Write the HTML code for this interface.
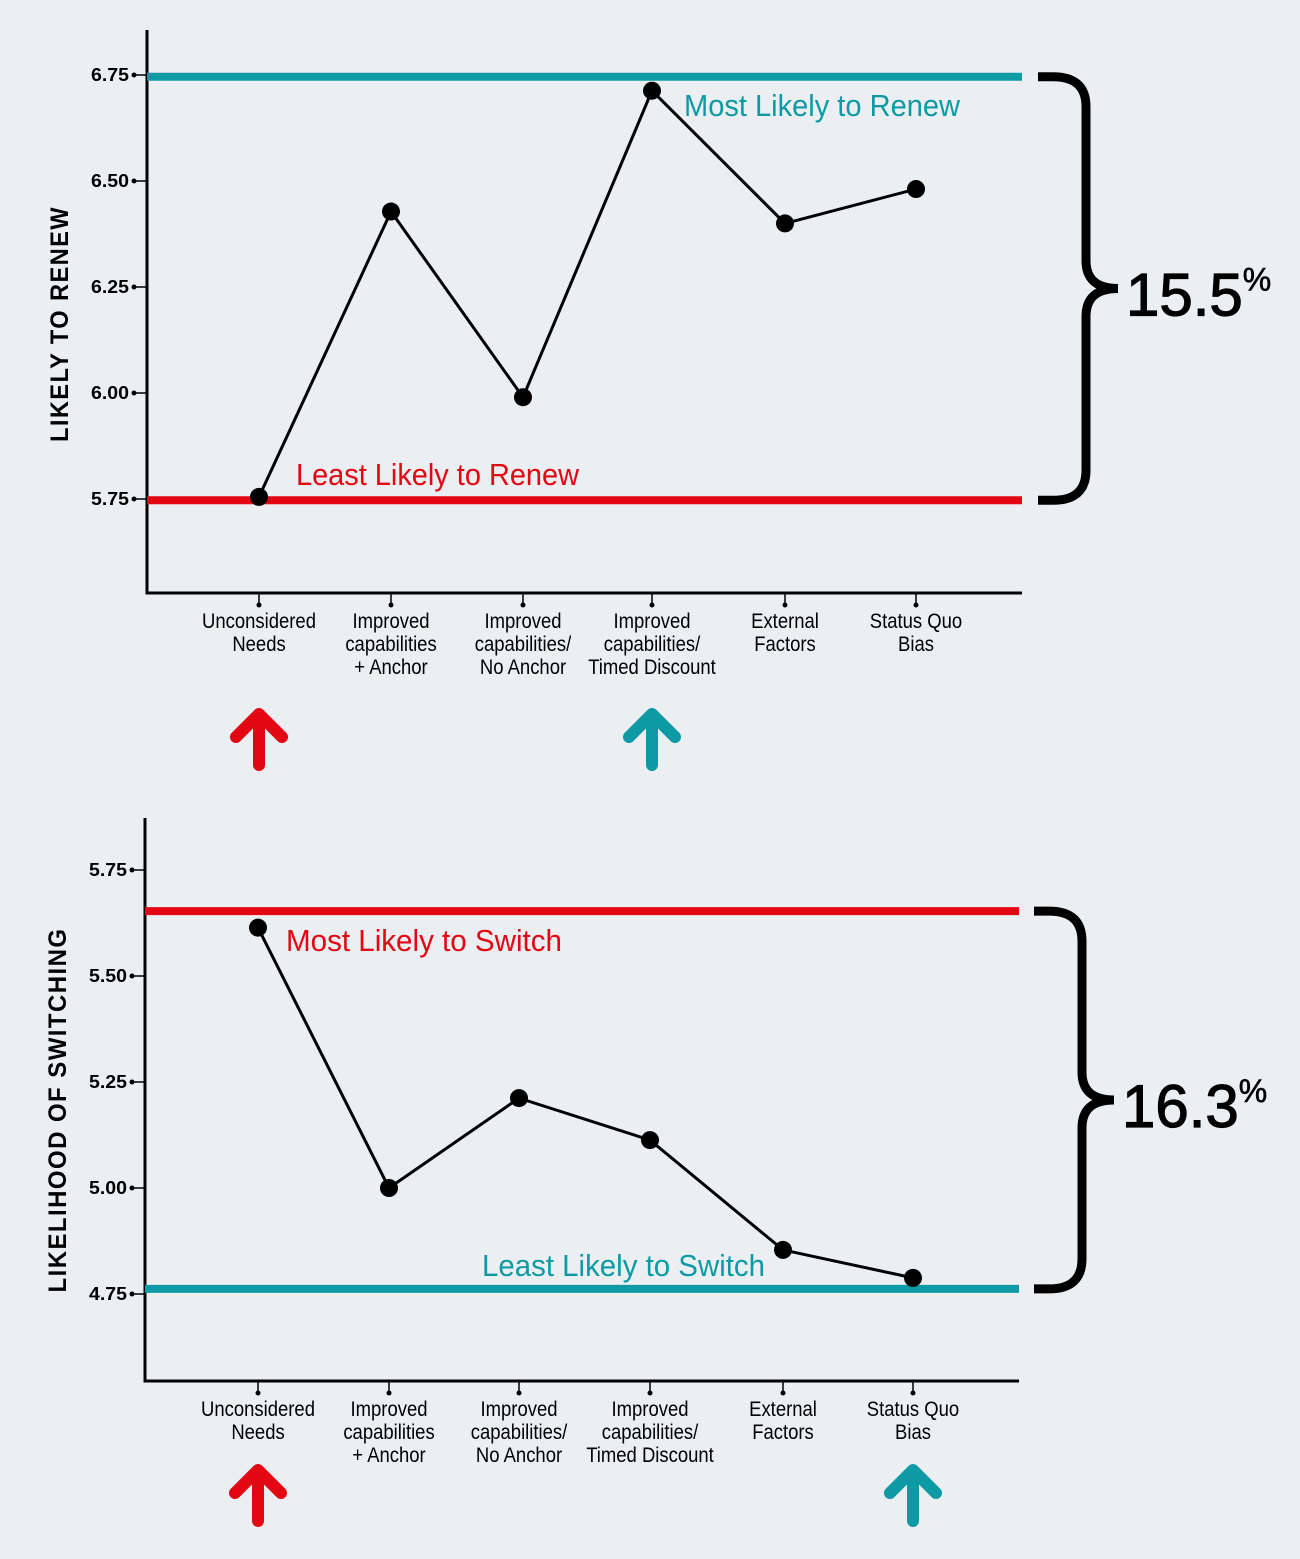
<!DOCTYPE html>
<html><head><meta charset="utf-8"><style>
html,body{margin:0;padding:0;background:#eceff2;}
svg{display:block;}
text{font-family:"Liberation Sans Narrow","Liberation Sans",sans-serif;}
</style></head><body>
<svg id="svg" width="1300" height="1559" viewBox="0 0 1300 1559" xmlns="http://www.w3.org/2000/svg">
<rect width="1300" height="1559" fill="#eceff2"/>
</svg>
<script>
const categories = [["Unconsidered","Needs"],["Improved","capabilities","+ Anchor"],["Improved","capabilities/","No Anchor"],["Improved","capabilities/","Timed Discount"],["External","Factors"],["Status Quo","Bias"]];
const renewValues = [5.755, 6.428, 5.99, 6.713, 6.40, 6.481];
const switchValues = [5.614, 5.0, 5.212, 5.113, 4.854, 4.788];
const renewTicks = ["5.75","6.00","6.25","6.50","6.75"];
const switchTicks = ["4.75","5.00","5.25","5.50","5.75"];
const renewRefs = [6.746, 5.747];
const switchRefs = [5.653, 4.762];

const TEAL="#0e9aa5", RED="#e30613";
const svg=document.getElementById('svg');
const NS="http://www.w3.org/2000/svg";
function mk(tag,attrs,parent){const e=document.createElementNS(NS,tag);for(const k in attrs)e.setAttribute(k,attrs[k]);(parent||svg).appendChild(e);return e;}

function chart(o){
  const g=mk('g',{});
  
  
  const y=v=>o.y0-(v-o.v0)/0.25*106;
  const x=i=>o.xs[i];
  const ax=mk('path',{d:`M${o.ax},${o.top} L${o.ax},${o.bot} L${o.right},${o.bot}`,fill:'none',stroke:'#000','stroke-width':3},g);
  
  
  o.ticks.forEach(t=>{
    const yy=y(parseFloat(t));
    const tl=mk('text',{x:o.ax-18,y:yy+6,'text-anchor':'end','font-size':18,'font-weight':'bold',textLength:38,lengthAdjust:'spacingAndGlyphs'},g);
    tl.textContent=t;
    
    
    mk('line',{x1:o.ax-13,x2:o.ax,y1:yy,y2:yy,stroke:'#000','stroke-width':1.5},g);
    mk('circle',{cx:o.ax-13,cy:yy,r:2.5,fill:'#000'},g);
  });
  const yt=mk('text',{x:0,y:0,transform:`translate(${o.tx},${o.tcy}) rotate(-90)`,'text-anchor':'middle','font-size':25,'font-weight':'bold','letter-spacing':'1.5',textLength:o.tlen,lengthAdjust:'spacingAndGlyphs'},g);
  yt.textContent=o.title;
  
  
  categories.forEach((c,i)=>{
    mk('line',{x1:x(i),x2:x(i),y1:o.bot,y2:o.bot+12,stroke:'#000','stroke-width':1.5},g);
    mk('circle',{cx:x(i),cy:o.bot+12,r:2.5,fill:'#000'},g);
    const wg=mk('g',{transform:`translate(${x(i)},${o.bot+35}) scale(0.88,1)`},g);
    const t=mk('text',{x:0,y:0,'text-anchor':'middle','font-size':21},wg);
    
    
    c.forEach((ln,j)=>{const s=mk('tspan',{x:0,dy:j?23:0},t);s.textContent=ln;});
  });
  o.refs.forEach((r,k)=>{
    const l=mk('line',{x1:o.ax,x2:o.right,y1:y(r),y2:y(r),stroke:o.refColors[k],'stroke-width':8},g);
    
    
  });
  o.notes.forEach(n=>{
    const t=mk('text',{x:n.x,y:n.y,'font-size':31,fill:n.c,textLength:n.w,lengthAdjust:'spacingAndGlyphs'},g);
    t.textContent=n.t;
    
    
  });
  const pl=mk('polyline',{points:o.vals.map((v,i)=>x(i)+','+y(v)).join(' '),fill:'none',stroke:'#000','stroke-width':3},g);
  
  
  o.vals.forEach((v,i)=>{
    const c=mk('circle',{cx:x(i),cy:y(v),r:9,fill:'#000'},g);
    
    
  });
  const t1=y(o.refs[0]), b1=y(o.refs[1]), m=(t1+b1)/2, bx=o.bx;
  const br=mk('path',{d:`M${bx},${t1} L${bx+15},${t1} Q${bx+48},${t1} ${bx+48},${t1+30} L${bx+48},${m-28} Q${bx+48},${m} ${bx+80},${m} Q${bx+48},${m} ${bx+48},${m+28} L${bx+48},${b1-30} Q${bx+48},${b1} ${bx+15},${b1} L${bx},${b1}`,fill:'none',stroke:'#000','stroke-width':9},g);
  
  
  const pt=mk('text',{x:bx+88,y:m+27,'font-size':60,'font-family':'Liberation Sans, sans-serif',stroke:'#000','stroke-width':1.2},g);
  pt.textContent=o.pct;
  const sp=mk('tspan',{'font-size':32,dy:-25,'stroke-width':0.6},pt);sp.textContent='%';
  
  
  o.arrows.forEach(a=>{
    const ag=mk('g',{stroke:a.c,'stroke-width':12,'stroke-linecap':'round','stroke-linejoin':'round',fill:'none'},g);
    
    
    mk('path',{d:`M${x(a.i)},${a.y+55} L${x(a.i)},${a.y+5} M${x(a.i)-23},${a.y+27} L${x(a.i)},${a.y+4} L${x(a.i)+23},${a.y+27}`},ag);
  });
}
chart({name:'renewal-chart',y0:499,v0:5.75,ax:147,top:30,bot:593,right:1022,xs:[259,391,523,652,785,916],
  ticks:renewTicks,title:'LIKELY TO RENEW',tlen:236,tx:68,tcy:324,vals:renewValues,refs:renewRefs,refColors:[TEAL,RED],
  notes:[{x:684,y:116,t:'Most Likely to Renew',c:TEAL,w:276},{x:296,y:485,t:'Least Likely to Renew',c:RED,w:283}],
  bx:1038,pct:'15.5',arrows:[{i:0,y:710,c:RED,n:'least-likely-arrow'},{i:3,y:710,c:TEAL,n:'most-likely-arrow'}]});
chart({name:'switching-chart',y0:1294,v0:4.75,ax:145,top:818,bot:1381,right:1019,xs:[258,389,519,650,783,913],
  ticks:switchTicks,title:'LIKELIHOOD OF SWITCHING',tlen:365,tx:66,tcy:1110,vals:switchValues,refs:switchRefs,refColors:[RED,TEAL],
  notes:[{x:286,y:951,t:'Most Likely to Switch',c:RED,w:276},{x:482,y:1276,t:'Least Likely to Switch',c:TEAL,w:283}],
  bx:1034,pct:'16.3',arrows:[{i:0,y:1466,c:RED,n:'most-likely-arrow'},{i:5,y:1466,c:TEAL,n:'least-likely-arrow'}]});
</script>
</body></html>
